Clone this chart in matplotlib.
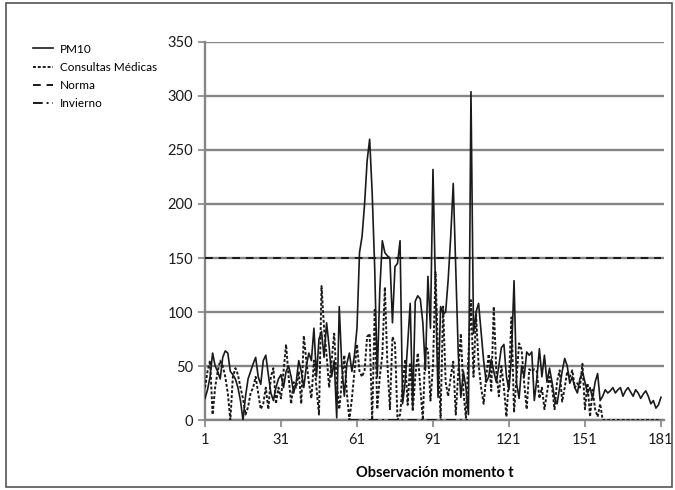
import matplotlib
matplotlib.use("Agg")
import matplotlib.pyplot as plt
from matplotlib.patches import Rectangle
import numpy as np

plt.rcParams['font.family'] = ['Lato', 'DejaVu Sans']

# datos (t = 1..181)
pm10 = [
    20, 28, 40, 62, 50, 45, 38, 58, 64, 62,
    45, 42, 38, 30, 18, 0, 22, 38, 45, 52,
    58, 40, 33, 55, 60, 42, 25, 18, 30, 38,
    42, 30, 45, 50, 40, 25, 35, 55, 45, 30,
    50, 62, 55, 85, 40, 75, 82, 58, 90, 68,
    40, 55, 2, 105, 50, 22, 52, 62, 45, 60,
    85, 155, 170, 200, 240, 260, 210, 140, 40, 120,
    166, 155, 152, 150, 90, 142, 145, 166, 15, 35,
    70, 108, 12, 110, 115, 112, 90, 46, 133, 85,
    232, 120, 21, 105, 98, 100, 130, 170, 219, 140,
    60, 21, 45, 30, 5, 304, 80, 100, 108, 82,
    55, 35, 40, 56, 45, 35, 50, 67, 70, 40,
    28, 60, 129, 34, 20, 50, 40, 63, 60, 63,
    18, 38, 66, 40, 60, 35, 48, 35, 20, 15,
    30, 45, 57, 50, 34, 40, 30, 25, 38, 45,
    35, 25, 30, 20, 35, 43, 18, 22, 28, 25,
    27, 30, 25, 28, 30, 22, 27, 30, 26, 22,
    28, 25, 20, 24, 27, 22, 15, 18, 11, 14, 21,
]
consultas = [
    30, 45, 55, 5, 30, 45, 55, 50, 40, 25,
    0, 40, 48, 42, 30, 20, 5, 12, 25, 30,
    40, 25, 10, 15, 30, 10, 40, 48, 15, 30,
    20, 45, 70, 40, 15, 35, 30, 45, 15, 78,
    55, 35, 20, 55, 30, 5, 124, 85, 60, 30,
    55, 80, 35, 10, 35, 60, 25, 0, 20, 45,
    70, 45, 40, 46, 77, 80, 0, 102, 10, 40,
    60, 123, 52, 10, 77, 71, 0, 5, 30, 56,
    14, 53, 8, 40, 62, 30, 0, 68, 65, 18,
    50, 137, 60, 2, 105, 35, 22, 40, 54, 5,
    45, 80, 27, 2, 60, 111, 40, 98, 52, 30,
    15, 40, 61, 27, 105, 45, 22, 50, 30, 3,
    40, 95, 7, 40, 71, 65, 34, 10, 47, 45,
    47, 45, 20, 30, 10, 25, 40, 30, 10, 36,
    46, 17, 30, 45, 40, 46, 30, 34, 30, 52,
    10, 34, 3, 28, 10, 3, 15, 0, 0, 0,
    0, 0, 0, 0, 0, 0, 0, 0, 0, 0,
    0, 0, 0, 0, 0, 0, 0, 0, 0, 0, 0,
]
norma = 150
invierno_ini, invierno_fin = 58, 105
x_ticks = [1, 31, 61, 91, 121, 151, 181]
y_ticks = [0, 50, 100, 150, 200, 250, 300, 350]

t = np.arange(1, len(pm10) + 1)
invierno = np.where((t >= invierno_ini) & (t <= invierno_fin), 0.0, np.nan)

fig = plt.figure(figsize=(6.75, 4.9), dpi=100)
ax = fig.add_axes([205 / 675, 1 - 420 / 490, (664 - 205) / 675, (420 - 42) / 490])

grid_col = '#858585'
for v in y_ticks:
    ax.axhline(v, color=grid_col, lw=1.7, zorder=1)

ax.plot(t, pm10, color='#1a1a1a', lw=1.2, label='PM10', zorder=4)
ax.plot(t, consultas, color='#1a1a1a', lw=1.4, ls=(0, (1.5, 1.0)), label='Consultas Médicas', zorder=3)
ax.plot(t, [norma] * len(t), color='#1a1a1a', lw=1.4, ls=(0, (4, 3)), label='Norma', zorder=3)
ax.plot(t, invierno, color='#1a1a1a', lw=1.4, ls=(0, (5, 2, 1, 2)), label='Invierno', zorder=3)

ax.set_xlim(1, 182.2)
ax.set_ylim(0, 350)
ax.set_xticks(x_ticks)
ax.set_yticks(y_ticks)
ax.tick_params(axis='both', colors=grid_col, labelcolor='#1a1a1a', labelsize=10.5, length=5, width=1.2)
ax.tick_params(axis='x', pad=4)
for s in ['top', 'right']:
    ax.spines[s].set_visible(False)
ax.spines['left'].set_color(grid_col)
ax.spines['left'].set_linewidth(1.7)
ax.spines['bottom'].set_color(grid_col)
ax.spines['bottom'].set_linewidth(1.7)

ax.set_xlabel('Observación momento t', fontsize=10.5, fontweight='bold', labelpad=14)

fig.legend(loc='upper left', bbox_to_anchor=(22 / 675, 1 - 33 / 490), frameon=False,
           fontsize=8.5, handlelength=1.7, handletextpad=0.6, labelspacing=0.6)

fig.patches.append(Rectangle((6 / 675, 3 / 490), 666 / 675, 484 / 490, transform=fig.transFigure,
                             fill=False, edgecolor='#555555', lw=1.2))

fig.savefig('out.png', dpi=100)
